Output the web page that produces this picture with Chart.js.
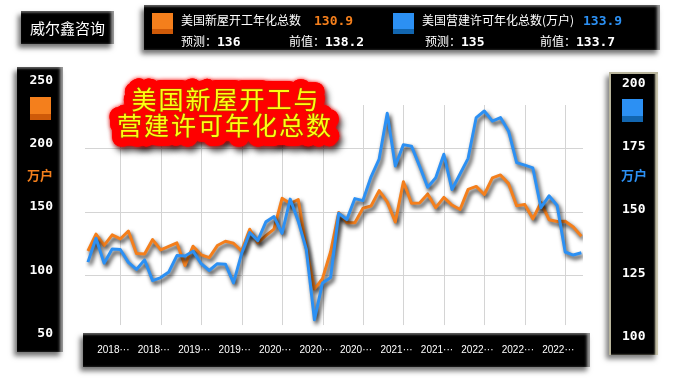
<!DOCTYPE html>
<html><head><meta charset="utf-8">
<script src="https://cdn.jsdelivr.net/npm/chart.js@4/dist/chart.umd.min.js"></script>
<style>
html,body{margin:0;padding:0;background:#fff;}
#wrap{position:relative;width:673px;height:389px;overflow:hidden;background:#fff;font-family:"Noto Sans CJK SC",sans-serif;}
.panel{position:absolute;background:#000;z-index:1;
  box-shadow:-3px 4px 5px rgba(0,0,0,0.55), inset -4px 0 3px -1px #9a9a9a, inset 0 3px 2px -1px #505050;}
#c{position:absolute;left:0;top:0;z-index:2;}
.t{position:absolute;white-space:nowrap;color:#fff;font-size:12px;line-height:16px;z-index:3;}
.n{font-family:"DejaVu Sans Mono",monospace;font-weight:bold;font-size:13px;}
.sq{position:absolute;z-index:3;}
.unit{position:absolute;z-index:3;font-size:13px;font-weight:bold;line-height:16px;}
</style></head>
<body><div id="wrap">
<div class="panel" style="left:21px;top:11px;width:93px;height:33px;"></div>
<div class="t" id="logo" style="left:21px;top:11px;width:93px;height:33px;line-height:33px;text-align:center;font-size:15px;">威尔鑫咨询</div>
<div class="panel" style="left:144px;top:5px;width:516px;height:45px;"></div>
<div class="panel" style="left:17px;top:67px;width:46px;height:285px;"></div>
<div class="panel" style="left:609px;top:72px;width:49px;height:283px;box-shadow:-3px 4px 5px rgba(0,0,0,0.5), inset 2px 2px 0 0 #b9b59c, inset -3px 0 2px 0 #c9c5ac;"></div>
<div class="panel" style="left:83px;top:333px;width:507px;height:34px;"></div>
<div id="legend"></div>
<canvas id="c" width="673" height="389"></canvas>
</div>
<script>
// ---- data ----
const months = ["2017-12",
 "2018-01","2018-02","2018-03","2018-04","2018-05","2018-06","2018-07","2018-08","2018-09","2018-10","2018-11","2018-12",
 "2019-01","2019-02","2019-03","2019-04","2019-05","2019-06","2019-07","2019-08","2019-09","2019-10","2019-11","2019-12",
 "2020-01","2020-02","2020-03","2020-04","2020-05","2020-06","2020-07","2020-08","2020-09","2020-10","2020-11","2020-12",
 "2021-01","2021-02","2021-03","2021-04","2021-05","2021-06","2021-07","2021-08","2021-09","2021-10","2021-11","2021-12",
 "2022-01","2022-02","2022-03","2022-04","2022-05","2022-06","2022-07","2022-08","2022-09","2022-10","2022-11","2022-12",
 "2023-01"];
// 美国新屋开工年化总数 (万户)
const housingStarts = [119.2,
 132.6,123.6,131.9,128.7,135.0,117.3,116.8,128.2,120.1,122.8,125.6,107.8,
 123.0,116.2,113.9,123.5,126.9,125.3,119.1,136.4,125.6,131.4,136.5,160.8,
 156.7,159.9,121.6,89.1,97.4,118.6,149.6,141.6,141.5,153.0,154.7,166.9,
 158.0,142.1,173.9,156.9,157.2,164.3,153.4,161.5,155.5,152.0,167.9,170.2,
 163.8,176.9,179.3,172.4,154.9,155.9,144.6,157.5,143.9,142.5,142.7,138.2,
 130.9];
// 美国营建许可年化总数 (万户)
const buildingPermits = [130.2,
 139.6,129.8,135.4,135.2,130.1,127.3,131.1,122.9,124.1,126.3,132.8,132.6,
 134.5,129.6,126.9,129.6,129.4,122.0,133.6,141.9,138.7,146.1,148.2,141.6,
 155.1,146.4,135.3,107.4,122.0,124.1,149.5,147.0,155.3,154.5,163.9,170.9,
 189.0,168.2,176.6,176.0,168.1,159.8,163.5,172.8,158.9,165.0,171.2,187.3,
 189.9,185.9,187.3,181.9,169.5,168.5,167.4,151.7,156.4,152.6,134.2,133.0,
 133.9];
const xTickLabels = ["2018···","2018···","2019···","2019···","2020···","2020···","2020···","2021···","2021···","2022···","2022···","2022···"];
const xTickMonths = ["2018-05","2018-10","2019-03","2019-08","2020-01","2020-06","2020-11","2021-04","2021-09","2022-02","2022-07","2022-12"];
const gridMonths = ["2018-04","2018-09","2019-02","2019-07","2019-12","2020-05","2020-10","2021-03","2021-08","2022-01","2022-06","2022-11"];
const leftTicks = [50,100,150,200,250];
const rightTicks = [100,125,150,175,200];
const seriesNames = ["美国新屋开工年化总数","美国营建许可年化总数(万户)"];
const latestValues = ["130.9","133.9"];
const forecastValues = ["136","135"];
const previousValues = ["138.2","133.7"];
const titleLines = ["美国新屋开工与","营建许可年化总数"];
const unitLabel = "万户";

// ---- legend / panels (HTML text) ----
const ORANGE = '#f47f1c', ORANGE_D = '#cf5a08', BLUE = '#2c90f3', BLUE_D = '#1266b0';
const lg = document.getElementById('legend');
function add(html, style, cls){ const d=document.createElement('div'); d.className=cls||'t'; d.style.cssText=style; d.innerHTML=html; lg.appendChild(d); return d; }
function square(x,y,w,h,c1,c2){ add('', `left:${x}px;top:${y}px;width:${w}px;height:${h}px;background:linear-gradient(${c1} 0,${c1} 76%,${c2} 76%,${c2} 100%);`, 'sq'); }
square(152,13,21,21,ORANGE,ORANGE_D);
add(seriesNames[0], 'left:181px;top:12px;');
add(`<span class="n" style="color:${ORANGE}">${latestValues[0]}</span>`, 'left:314px;top:12px;');
add(`预测：<span class="n">${forecastValues[0]}</span>`, 'left:181px;top:33px;');
add(`前值：<span class="n">${previousValues[0]}</span>`, 'left:289px;top:33px;');
square(393,13,21,21,BLUE,BLUE_D);
add(seriesNames[1], 'left:422px;top:12px;');
add(`<span class="n" style="color:${BLUE}">${latestValues[1]}</span>`, 'left:583px;top:12px;');
add(`预测：<span class="n">${forecastValues[1]}</span>`, 'left:425px;top:33px;');
add(`前值：<span class="n">${previousValues[1]}</span>`, 'left:540px;top:33px;');
// axis panel markers
square(30,97,21,23,ORANGE,ORANGE_D);
square(622,99,21,23,BLUE,BLUE_D);
add(unitLabel, `left:27px;top:167px;color:${ORANGE};`, 'unit');
add(unitLabel, `left:621px;top:167px;color:${BLUE};`, 'unit');

// ---- plugins ----
const lineShadow = {
  id:'lineShadow',
  beforeDatasetDraw(chart){ const c=chart.ctx; c.save(); c.shadowColor='rgba(0,0,0,0.85)'; c.shadowBlur=4; c.shadowOffsetX=2; c.shadowOffsetY=3; },
  afterDatasetDraw(chart){ chart.ctx.restore(); }
};
const vGrid = {
  id:'vGrid',
  beforeDatasetsDraw(chart){
    const c=chart.ctx, xs=chart.scales.x, yl=chart.scales.yL;
    const y0 = yl.getPixelForValue(234.5), y1 = yl.getPixelForValue(60.7);
    c.save(); c.strokeStyle='#d4d4d4'; c.lineWidth=1;
    gridMonths.forEach(m=>{ const x=Math.round(xs.getPixelForValue(months.indexOf(m)))+0.5; c.beginPath(); c.moveTo(x,y0); c.lineTo(x,y1); c.stroke(); });
    c.restore();
  }
};
const title3d = {
  id:'title3d',
  afterDraw(chart){
    const c=chart.ctx; c.save();
    c.font='25px "Noto Sans CJK SC"';
    try{ c.letterSpacing='2px'; }catch(e){}
    c.textAlign='center'; c.textBaseline='middle'; c.lineJoin='round'; c.lineCap='round';
    const L=[[titleLines[0],226,99],[titleLines[1],225,125]];
    c.shadowColor='rgba(0,0,0,0.75)'; c.shadowBlur=6; c.shadowOffsetX=3; c.shadowOffsetY=5;
    c.strokeStyle='#ff0000'; c.lineWidth=18;
    L.forEach(([t,x,y])=>c.strokeText(t,x,y));
    c.shadowColor='#ff0000'; c.shadowBlur=4; c.shadowOffsetX=0; c.shadowOffsetY=0;
    L.forEach(([t,x,y])=>c.strokeText(t,x,y));
    c.shadowColor='transparent';
    c.lineWidth=1.2; c.strokeStyle='rgba(150,90,0,0.8)'; c.fillStyle='#ffff10';
    L.forEach(([t,x,y])=>{ c.strokeText(t,x,y); c.fillText(t,x,y); });
    c.restore();
  }
};

// ---- chart ----
const tickFont = {family:'"DejaVu Sans Mono", monospace', size:13, weight:'bold'};
new Chart(document.getElementById('c').getContext('2d'), {
  type:'line',
  data:{ datasets:[
    { label:seriesNames[0], data:housingStarts.map((v,i)=>({x:i,y:v})), yAxisID:'yL',
      borderColor:ORANGE, borderWidth:3, pointRadius:0, tension:0, borderJoinStyle:'round', order:2 },
    { label:seriesNames[1], data:buildingPermits.map((v,i)=>({x:i,y:v})), yAxisID:'yR',
      borderColor:BLUE, borderWidth:3, pointRadius:0, tension:0, borderJoinStyle:'round', order:1 }
  ]},
  options:{
    responsive:false, animation:false, devicePixelRatio:1,
    layout:{padding:{top:85.4,left:0,right:0,bottom:0}},
    plugins:{legend:{display:false}, tooltip:{enabled:false}},
    scales:{
      x:{ type:'linear', min:-0.36, max:61.2,
        grid:{display:false, drawTicks:false}, border:{display:false},
        afterBuildTicks:(a)=>{ a.ticks = xTickMonths.map(m=>({value:months.indexOf(m)})); },
        ticks:{ autoSkip:false, maxRotation:0, minRotation:0, color:'#fff', padding:6, labelOffset:-15,
          font:{family:'"Liberation Sans", sans-serif', size:10},
          callback:(v,i)=>xTickLabels[i] },
        afterFit:(a)=>{ a.height=50.4; } },
      yL:{ position:'left', min:50, max:250,
        afterBuildTicks:(a)=>{ a.ticks = leftTicks.map(v=>({value:v})); },
        ticks:{ color:'#fff', font:tickFont, padding:32, labelOffset:-5 },
        grid:{ drawTicks:false, color:(ctx)=> (ctx.tick && (ctx.tick.value===leftTicks[0] || ctx.tick.value===leftTicks[leftTicks.length-1])) ? 'rgba(0,0,0,0)' : '#d4d4d4' },
        border:{display:false},
        afterFit:(a)=>{ a.width=85; } },
      yR:{ position:'right', min:100, max:200,
        afterBuildTicks:(a)=>{ a.ticks = rightTicks.map(v=>({value:v})); },
        ticks:{ color:'#fff', font:tickFont, padding:39, labelOffset:-2 },
        grid:{display:false, drawTicks:false}, border:{display:false},
        afterFit:(a)=>{ a.width=90; } }
    }
  },
  plugins:[vGrid, lineShadow, title3d]
});
</script>
</body></html>
